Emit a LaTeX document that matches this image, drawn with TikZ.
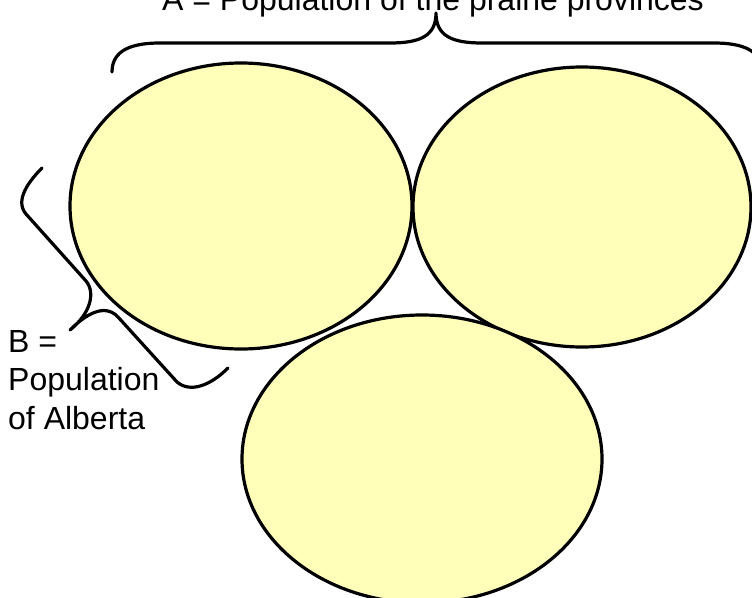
\documentclass[tikz,border=0pt]{standalone}
\usepackage{fontspec}
\setmainfont{Liberation Sans}
\usetikzlibrary{shapes.geometric}

\definecolor{provfill}{RGB}{255,255,186}

\tikzset{
  prov/.style={ellipse, draw=black, line width=3.2pt, fill=provfill, inner sep=0pt},
  bracket/.style={draw=black, line width=3.2pt, line cap=round, line join=round},
  poptext/.style={font=\fontsize{32}{38.5}\selectfont, inner sep=0pt}
}

\begin{document}
\begin{tikzpicture}[x=1pt, y=-1pt]
  \useasboundingbox (0,0) rectangle (752,597);

  % the three provinces
  \node[prov, minimum width=342pt, minimum height=286pt] (alberta)  at (241,206) {};
  \node[prov, minimum width=338pt, minimum height=280pt] (sask)     at (582,207) {};
  \node[prov, minimum width=360pt, minimum height=288pt] (manitoba) at (422,459) {};

  % brace A over the top
  \coordinate (atip) at (436,13);
  \draw[bracket] (112,72) .. controls (112,50) and (132,43) .. (160,43)
    -- (390,43) .. controls (420,43) and (436,36) .. (atip)
    .. controls (436,36) and (452,43) .. (482,43)
    -- (714,43) .. controls (742,43) and (762,50) .. (762,72);
  \node[poptext, anchor=base] (aname) at (433,10) {A = Population of the prairie provinces};

  % brace B along Alberta
  \coordinate (btip) at (70,330);
  \draw[bracket] (42,168) .. controls (30,180) and (14,200) .. (26,214)
    -- (86,281) .. controls (96,293) and (90,314) .. (btip)
    .. controls (84,316) and (104,302) .. (118,317)
    -- (177,382) .. controls (190,393) and (210,386) .. (228,368);
  \node[poptext, anchor=north west, align=left] (bname) at (8,330) {B =\\Population\\of Alberta};
\end{tikzpicture}
\end{document}
